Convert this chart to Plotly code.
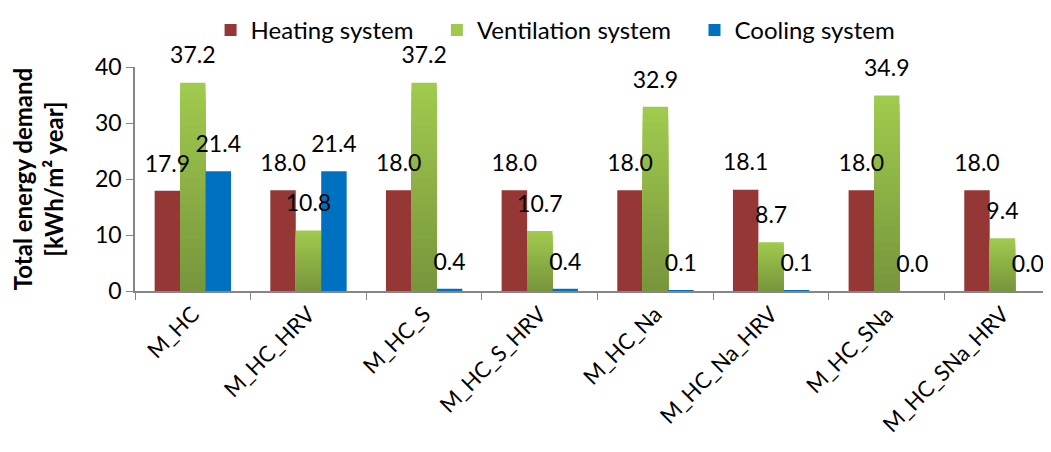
import plotly.graph_objects as go

cases = ["M_HC", "M_HC_HRV", "M_HC_S", "M_HC_S_HRV", "M_HC_Na", "M_HC_Na_HRV", "M_HC_SNa", "M_HC_SNa_HRV"]
heating = [17.9, 18.0, 18.0, 18.0, 18.0, 18.1, 18.0, 18.0]
ventilation = [37.2, 10.8, 37.2, 10.7, 32.9, 8.7, 34.9, 9.4]
cooling = [21.4, 21.4, 0.4, 0.4, 0.1, 0.1, 0.0, 0.0]

FONT = "Lato"
BAR_W = 0.22
LABEL_FONT = dict(family=FONT, size=23, color="black")
PAD = "\u00a0" * 3  # extra room between legend entries, like Excel

fig = go.Figure()

# heating - flat dark red
fig.add_trace(go.Bar(
    x=cases, y=heating, name="Heating system" + PAD,
    marker=dict(color="#953735", line=dict(width=0)),
    width=BAR_W, offset=-0.33,
))

# ventilation - green gradient, faked with layered bars (light top -> dark bottom)
top_rgb = (160, 202, 78)
bot_rgb = (120, 150, 60)
n_layers = 24
for k in range(n_layers):
    frac = 1 - k / n_layers
    t = k / (n_layers - 1)
    c = tuple(round(top_rgb[i] + (bot_rgb[i] - top_rgb[i]) * t) for i in range(3))
    fig.add_trace(go.Bar(
        x=cases, y=[v * frac for v in ventilation], name="Ventilation system" + PAD,
        marker=dict(color="rgb(%d,%d,%d)" % c, line=dict(width=0)),
        width=BAR_W, offset=-0.11,
        showlegend=(k == 0), legendgroup="vent",
    ))

# cooling - blue
fig.add_trace(go.Bar(
    x=cases, y=cooling, name="Cooling system",
    marker=dict(color="#0070C0", line=dict(width=0)),
    width=BAR_W, offset=0.11,
))

# value labels on top of everything, on a hidden numeric axis lined up with the categories
idx = list(range(len(cases)))
for vals, shift in [(heating, -0.22), (ventilation, 0.0), (cooling, 0.22)]:
    fig.add_trace(go.Scatter(
        x=[i + shift for i in idx], y=vals, xaxis="x2",
        mode="markers+text", marker=dict(size=20, opacity=0),
        text=["%.1f" % v for v in vals], textposition="top center",
        textfont=LABEL_FONT, cliponaxis=False,
        showlegend=False, hoverinfo="skip",
    ))

# page body adds an 8px margin, so the figure is drawn 8px smaller
fig.update_layout(
    width=1043, height=444,
    barmode="overlay",
    plot_bgcolor="white", paper_bgcolor="white",
    margin=dict(l=127, r=0, t=59, b=161),
    font=dict(family=FONT, size=23, color="black"),
    showlegend=True,
    legend=dict(orientation="h", x=0.525, xref="container", xanchor="center",
                y=1.0, yref="container", yanchor="top",
                font=dict(family=FONT, size=24), itemwidth=30,
                bgcolor="rgba(0,0,0,0)", traceorder="normal"),
    xaxis2=dict(overlaying="x", range=[-0.5, 7.42], visible=False),
)
fig.update_layout(xaxis=dict(
    type="category", range=[-0.5, 7.42], automargin=False,
    showline=True, linecolor="#868686", linewidth=1.5,
    ticks="outside", tickson="boundaries", ticklen=7, tickcolor="#868686",
    tickangle=-45, tickfont=dict(family=FONT, size=22),
    showgrid=False, zeroline=False,
))
fig.update_yaxes(
    range=[0, 40], tickvals=[0, 10, 20, 30, 40], automargin=False,
    showline=True, linecolor="#868686", linewidth=1.5,
    ticks="outside", ticklen=7, tickcolor="#868686",
    tickfont=dict(family=FONT, size=23),
    showgrid=False, zeroline=False,
    title=dict(text="<b>Total energy demand<br>[kWh/m² year]</b>",
               font=dict(family=FONT, size=24), standoff=30),
)

fig.write_html("out.html")
